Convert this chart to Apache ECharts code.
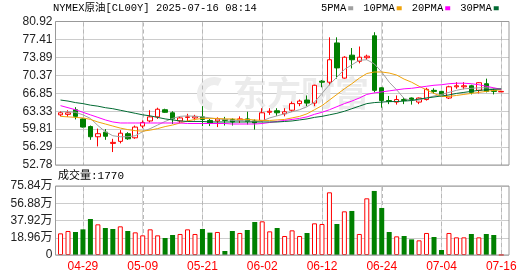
<!DOCTYPE html>
<html>
<head>
<meta charset="utf-8">
<script src="https://cdn.jsdelivr.net/npm/echarts@6/dist/echarts.min.js"></script>
<style>
html,body{margin:0;padding:0;background:#fff;}
#c{width:530px;height:276px;background:#fff;}
</style>
</head>
<body>
<div id="c"></div>
<script>
// ---------- data ----------
const categories = ['04-24','04-25','04-28','04-29','04-30','05-01','05-02','05-05','05-06','05-07','05-08','05-09','05-12','05-13','05-14','05-15','05-16','05-19','05-20','05-21','05-22','05-23','05-26','05-27','05-28','05-29','05-30','06-02','06-03','06-04','06-05','06-06','06-09','06-10','06-11','06-12','06-13','06-16','06-17','06-18','06-19','06-20','06-23','06-24','06-25','06-26','06-27','06-30','07-01','07-02','07-03','07-04','07-07','07-08','07-09','07-10','07-11','07-14','07-15','07-16'];
const openP  = [62.6,62.7,63.6,61.8,60.3,58.3,59.2,57.0,57.4,58.9,58.1,60.4,61.4,62.2,63.6,63.0,61.4,62.1,62.0,62.2,61.5,61.4,61.7,61.7,61.5,61.8,61.4,61.5,63.1,63.4,62.8,63.5,64.8,65.5,64.9,69.2,69.0,76.7,69.8,74.3,73.1,73.8,78.1,67.9,65.4,65.1,65.6,65.9,65.1,65.6,67.4,67.2,65.9,68.1,68.1,68.3,67.4,68.7,67.4,67.1];
const closeP = [63.0,63.0,62.3,60.2,58.3,58.9,58.4,57.2,59.0,57.9,60.2,61.1,62.2,63.7,63.1,61.8,62.0,62.2,62.3,61.7,61.0,61.8,61.5,61.2,61.8,61.3,61.0,63.0,63.3,63.0,63.2,64.8,65.3,64.9,68.4,69.0,73.4,71.8,73.9,73.4,73.9,74.1,67.4,65.4,65.2,65.6,65.4,65.6,65.9,67.6,67.2,66.6,68.1,68.3,68.3,67.0,68.9,67.2,67.2,67.2];
const lowP   = [62.3,62.2,61.7,60.1,57.7,56.4,57.7,55.3,57.0,57.7,57.9,60.0,61.1,61.8,63.0,60.8,61.0,61.3,61.5,60.4,60.4,60.2,60.5,60.5,61.0,60.7,59.7,61.3,62.6,62.4,62.3,63.2,64.3,64.3,64.3,68.0,68.4,69.7,69.7,71.7,72.7,73.4,67.0,64.0,64.7,64.6,64.7,64.6,64.7,65.4,66.8,66.5,65.7,67.7,67.6,66.6,66.8,67.0,66.6,67.1];
const highP  = [63.3,63.5,64.1,61.9,60.5,59.9,59.8,57.9,59.6,59.2,60.5,61.5,63.5,64.0,63.8,63.3,62.3,62.8,62.6,64.3,61.8,62.1,62.2,61.9,62.3,63.2,61.7,63.9,63.9,63.9,63.9,65.2,65.6,66.4,68.5,69.4,77.8,77.8,74.1,75.7,76.0,74.4,78.8,68.0,66.3,66.4,66.0,66.0,66.0,67.9,67.8,67.3,68.3,69.0,69.0,68.5,69.0,69.7,67.8,67.3];
const ma5  = [63.2,63.2,63.1,62.6,61.9,60.5,59.3,58.5,58.3,58.3,58.5,59.3,59.9,60.6,61.3,61.9,62.3,62.4,62.3,62.2,62.0,61.8,61.7,61.5,61.5,61.4,61.3,61.4,62.0,62.4,62.8,63.2,63.6,64.2,65.1,66.8,68.5,70.0,71.5,72.4,73.3,73.4,72.6,71.0,69.0,67.5,65.8,65.4,65.5,65.9,66.3,66.6,67.0,67.4,67.7,67.8,67.9,67.9,67.8,67.5];
const ma10 = [62.3,62.2,62.1,62.0,61.7,61.2,60.8,60.4,60.0,59.7,59.5,59.4,59.6,59.9,60.3,60.6,61.0,61.4,61.7,61.9,61.9,61.9,61.8,61.8,61.7,61.7,61.6,61.5,61.5,61.6,61.7,62.0,62.3,62.8,63.6,64.4,65.5,66.6,67.7,68.7,69.8,70.7,71.0,71.0,70.8,70.4,69.6,69.0,68.2,67.5,66.8,66.2,66.2,66.4,66.6,66.8,67.0,67.2,67.4,67.5];
const ma20 = [64.4,64.0,63.6,63.1,62.6,62.1,61.6,61.2,61.0,61.0,61.0,61.0,61.0,61.0,61.0,61.0,61.0,60.9,60.9,60.9,60.9,60.9,60.9,60.8,60.8,60.8,60.8,60.9,61.1,61.3,61.5,61.7,61.9,62.2,62.7,63.1,63.6,64.2,64.8,65.3,65.9,66.6,66.9,67.1,67.3,67.5,67.7,67.8,68.0,68.2,68.4,68.5,68.7,68.8,68.8,68.7,68.5,68.2,67.9,67.6];
const ma30 = [65.5,65.3,65.0,64.8,64.5,64.3,64.0,63.8,63.5,63.2,62.9,62.6,62.4,62.1,61.8,61.6,61.4,61.3,61.3,61.3,61.2,61.2,61.2,61.2,61.2,61.2,61.2,61.2,61.2,61.2,61.3,61.4,61.6,61.8,62.1,62.3,62.6,62.9,63.3,63.8,64.3,64.8,65.0,65.1,65.2,65.2,65.3,65.4,65.7,65.9,66.1,66.3,66.5,66.8,67.0,67.2,67.4,67.5,67.6,67.7];
const volume = [23.8,26.4,25.3,28.2,39.6,33.7,29.7,28.6,31.5,26.4,24.9,21.6,28.2,21.6,18.7,22.0,23.1,28.2,23.1,28.6,24.6,25.3,4.4,26.4,24.2,27.5,36.3,37.0,26.0,29.7,20.9,27.1,20.9,24.2,34.8,34.1,68.9,34.1,48.0,48.4,23.1,62.3,70.4,51.7,25.3,20.5,20.9,17.2,16.1,24.2,19.8,5.5,24.2,19.4,19.4,23.1,19.4,23.1,22.0,0.177];
const volUp = [1,1,0,0,0,1,0,0,1,0,1,1,1,1,0,0,1,1,1,0,0,1,0,0,1,0,0,1,1,0,1,1,1,0,1,1,1,0,1,0,1,1,0,0,0,1,0,0,1,1,0,0,1,1,1,0,1,0,0,1];
const priceTicks = ['52.78','56.29','59.81','63.33','66.85','70.37','73.89','77.41','80.92'];
const volTicks = ['0','18.96万','37.92万','56.88万','75.84万'];
const xLabelIdx = [3,11,19,27,35,43,51,59];
const titleText = 'NYMEX原油[CL00Y] 2025-07-16 08:14';
const volTitle = '成交量:1770';
const maNames = ['5PMA','10PMA','20PMA','30PMA'];

// ---------- styles ----------
const RED = '#ff0000', GREEN = '#008000';
const maColors = ['#a0a0a0','#f0a30a','#ff00ff','#006a32'];
const MONO = "'Liberation Mono','Noto Sans CJK SC',monospace";
const SANS = "'Liberation Sans','Noto Sans CJK SC',sans-serif";

const pMin = 52.7625, pMax = 80.9025, pInt = 3.5175;
const vMin = 0, vMax = 75.84, vInt = 18.96;

const candleData = categories.map((_, i) => [openP[i], closeP[i], lowP[i], highP[i]]);
const volData = volume.map((v, i) => ({
  value: v,
  itemStyle: volUp[i] ? {color:'#ffffff', borderColor: RED, borderWidth: 1} : {color: GREEN, borderColor: GREEN, borderWidth: 0}
}));

// frame (border + horizontal grid) and data area (first to last bar centre)
const FL = 55.5, FW = 453.5, DL = 60.54, DW = 440.7;
const MT = 21.5, MH = 143.5, VT = 186, VH = 69;

const isLabelIdx = (idx) => xLabelIdx.indexOf(idx) >= 0;
const vSplit = () => ({show: true, interval: isLabelIdx, lineStyle: {color: '#d8d8d8', width: 1}});

const chart = echarts.init(document.getElementById('c'));
const maSeries = maNames.map((n, k) => ({
  name: n, type: 'line', xAxisIndex: 1, yAxisIndex: 1,
  data: [ma5, ma10, ma20, ma30][k],
  showSymbol: false, symbol: 'none', smooth: false, z: 3, clip: false,
  lineStyle: {width: 1, color: maColors[k]}, itemStyle: {color: maColors[k]},
  emphasis: {disabled: true}
}));

chart.setOption({
  animation: false,
  title: {
    text: titleText, left: 53, top: 3, padding: 0,
    textStyle: {fontSize: 10.5, fontWeight: 'normal', color: '#000', fontFamily: MONO}
  },
  legend: {
    data: maNames, left: 321, top: 3, padding: 0, icon: 'rect',
    itemWidth: 5, itemHeight: 4, itemGap: 10, align: 'right',
    selectedMode: false,
    textStyle: {fontSize: 10.5, color: '#000', fontFamily: MONO, padding: [0, -3, 0, 0]}
  },
  grid: [
    {left: FL, top: MT, width: FW, height: MH},
    {left: DL, top: MT, width: DW, height: MH},
    {left: FL, top: VT, width: FW, height: VH},
    {left: DL, top: VT, width: DW, height: VH}
  ],
  xAxis: [
    {type: 'value', gridIndex: 0, min: 0, max: 1, show: false},
    {type: 'category', gridIndex: 1, data: categories, boundaryGap: false,
     axisLine: {show: false}, axisTick: {show: false}, axisLabel: {show: false}, splitLine: vSplit()},
    {type: 'value', gridIndex: 2, min: 0, max: 1, show: false},
    {type: 'category', gridIndex: 3, data: categories, boundaryGap: false,
     axisLine: {show: false}, axisTick: {show: false}, splitLine: vSplit(),
     axisLabel: {show: true, interval: isLabelIdx, color: RED,
                 fontSize: 12, fontFamily: SANS, margin: 6, hideOverlap: false}}
  ],
  yAxis: [
    {type: 'value', gridIndex: 0, min: pMin, max: pMax, interval: pInt,
     axisLine: {show: false}, axisTick: {show: false},
     axisLabel: {margin: 3, fontSize: 12, color: '#222', fontFamily: SANS,
                 formatter: (v) => priceTicks[Math.round((v - pMin) / pInt)] || ''},
     splitLine: {show: true, lineStyle: {color: '#cccccc', width: 1}}},
    {type: 'value', gridIndex: 1, min: pMin, max: pMax, show: false, splitLine: {show: false}},
    {type: 'value', gridIndex: 2, min: vMin, max: vMax, interval: vInt,
     axisLine: {show: false}, axisTick: {show: false},
     axisLabel: {margin: 3, fontSize: 12, color: '#222', fontFamily: SANS,
                 formatter: (v) => volTicks[Math.round((v - vMin) / vInt)] || ''},
     splitLine: {show: true, lineStyle: {color: '#cccccc', width: 1}}},
    {type: 'value', gridIndex: 3, min: vMin, max: vMax, show: false, splitLine: {show: false}}
  ],
  series: [
    {
      name: 'K', type: 'candlestick', xAxisIndex: 1, yAxisIndex: 1, data: candleData,
      barWidth: 5, z: 2, clip: false,
      itemStyle: {color: '#ffffff', color0: GREEN, borderColor: RED, borderColor0: GREEN, borderWidth: 1},
      emphasis: {disabled: true}
    },
    ...maSeries,
    {
      name: 'VOL', type: 'bar', xAxisIndex: 3, yAxisIndex: 3, data: volData,
      barWidth: 5, z: 2, clip: false, emphasis: {disabled: true}
    }
  ]
});

// graphics: watermark, frames, volume caption, plus dashed vertical grid lines
const gfx = [
  {type: 'text', left: 233, top: 76, z: 0, silent: true,
   style: {text: '东方财富', fill: '#ebebeb', font: "bold 34px 'Noto Sans CJK SC'"}},
  {type: 'sector', z: 0, silent: true,
   shape: {cx: 214, cy: 94, r: 17, r0: 9, startAngle: Math.PI * 0.55, endAngle: Math.PI * 1.65},
   style: {fill: '#ededed'}},
  {type: 'rect', z: 10, silent: true,
   shape: {x: FL, y: MT, width: FW, height: MH},
   style: {fill: 'none', stroke: '#999999', lineWidth: 1}},
  {type: 'rect', z: 10, silent: true,
   shape: {x: FL, y: VT, width: FW, height: VH},
   style: {fill: 'none', stroke: '#999999', lineWidth: 1}},
  {type: 'text', left: 58, top: 171, z: 10, silent: true,
   style: {text: volTitle, fill: '#000', font: "11px 'Liberation Mono','Noto Sans CJK SC',monospace"}}
];
function axisPixel(i) {
  let px = null;
  try { px = chart.convertToPixel({xAxisIndex: 1}, i); } catch (e) { px = null; }
  if (Array.isArray(px)) px = px[0];
  if (typeof px !== 'number' || !isFinite(px)) {
    try { px = chart.convertToPixel({xAxisIndex: 1, yAxisIndex: 1}, [i, pMin]); } catch (e) { px = null; }
    if (Array.isArray(px)) px = px[0];
  }
  if (typeof px !== 'number' || !isFinite(px)) {
    try {
      const ax = chart.getModel().getComponent('xAxis', 1).axis;
      px = ax.toGlobalCoord(ax.dataToCoord(i));
    } catch (e) { px = null; }
  }
  return (typeof px === 'number' && isFinite(px)) ? px : null;
}
xLabelIdx.forEach((i) => {
  const px = axisPixel(i);
  if (px === null) return;
  const x = Math.round(px) + 0.5;
  [[MT, MT + MH], [VT, VT + VH]].forEach(([y1, y2]) => {
    for (let y = y1 + 1; y < y2; y += 7) {
      gfx.push({type: 'line', z: 1, silent: true,
        shape: {x1: x, y1: y, x2: x, y2: Math.min(y + 4, y2)},
        style: {stroke: '#b8b8b8', lineWidth: 1}});
    }
  });
});
chart.setOption({graphic: gfx});
</script>
</body>
</html>
